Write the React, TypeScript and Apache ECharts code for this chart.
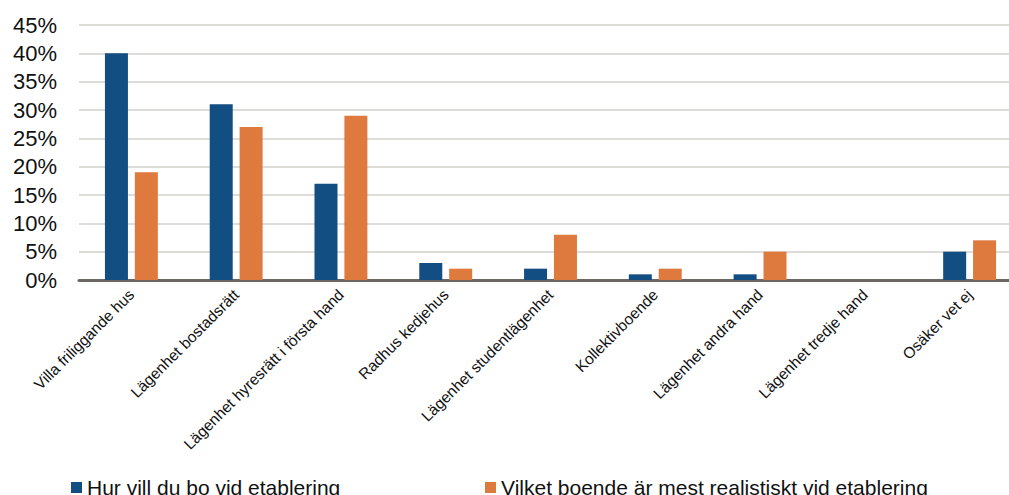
import React, { useEffect, useRef } from "react";
import * as echarts from "echarts";

const categories = [
  "Villa friliggande hus",
  "Lägenhet bostadsrätt",
  "Lägenhet hyresrätt i första hand",
  "Radhus kedjehus",
  "Lägenhet studentlägenhet",
  "Kollektivboende",
  "Lägenhet andra hand",
  "Lägenhet tredje hand",
  "Osäker vet ej",
];
const seriesNames = [
  "Hur vill du bo vid etablering",
  "Vilket boende är mest realistiskt vid etablering",
];
const wantValues = [40, 31, 17, 3, 2, 1, 1, 0, 5];
const realisticValues = [19, 27, 29, 2, 8, 2, 5, 0, 7];
const yMax = 45;
const yInterval = 5;

const BLUE = "#124e82";
const ORANGE = "#de7a3e";
const FONT = "'Liberation Sans', Arial, sans-serif";

export default function App() {
  const ref = useRef<HTMLDivElement>(null);
  useEffect(() => {
    if (!ref.current) return;
    const chart = echarts.init(ref.current, undefined, { renderer: "svg" });
    const legendText = { fontSize: 21, color: "#111", fontFamily: FONT };
    chart.setOption({
      animation: false,
      textStyle: { fontFamily: FONT },
      grid: { left: 79, right: 0, top: 25, bottom: 215, containLabel: false },
      legend: [
        {
          data: [seriesNames[0]],
          left: 71,
          top: 477,
          padding: 0,
          itemWidth: 11,
          itemHeight: 11,
          icon: "rect",
          textStyle: legendText,
        },
        {
          data: [seriesNames[1]],
          left: 485,
          top: 477,
          padding: 0,
          itemWidth: 11,
          itemHeight: 11,
          icon: "rect",
          textStyle: legendText,
        },
      ],
      xAxis: {
        type: "category",
        data: categories,
        axisLine: { lineStyle: { color: "#6b6762", width: 3 } },
        axisTick: { show: false },
        axisLabel: {
          rotate: 45,
          interval: 0,
          fontSize: 15.5,
          color: "#111",
          margin: 12,
          fontFamily: FONT,
        },
      },
      yAxis: {
        type: "value",
        min: 0,
        max: yMax,
        interval: yInterval,
        axisLine: { show: false },
        axisTick: { show: false },
        splitLine: { lineStyle: { color: "#d3d0cb", width: 1.5 } },
        axisLabel: {
          formatter: "{value}%",
          fontSize: 22,
          color: "#111",
          margin: 22,
          fontFamily: FONT,
        },
      },
      series: [
        {
          name: seriesNames[0],
          type: "bar",
          data: wantValues,
          barWidth: 23,
          barGap: "30%",
          itemStyle: { color: BLUE },
        },
        {
          name: seriesNames[1],
          type: "bar",
          data: realisticValues,
          barWidth: 23,
          barGap: "30%",
          itemStyle: { color: ORANGE },
        },
      ],
    });
    return () => chart.dispose();
  }, []);
  return (
    <div style={{ position: "fixed", left: 0, top: 0, width: 1009, height: 495, overflow: "hidden", background: "#fff" }}>
      <div ref={ref} style={{ width: 1022, height: 495 }} />
    </div>
  );
}
